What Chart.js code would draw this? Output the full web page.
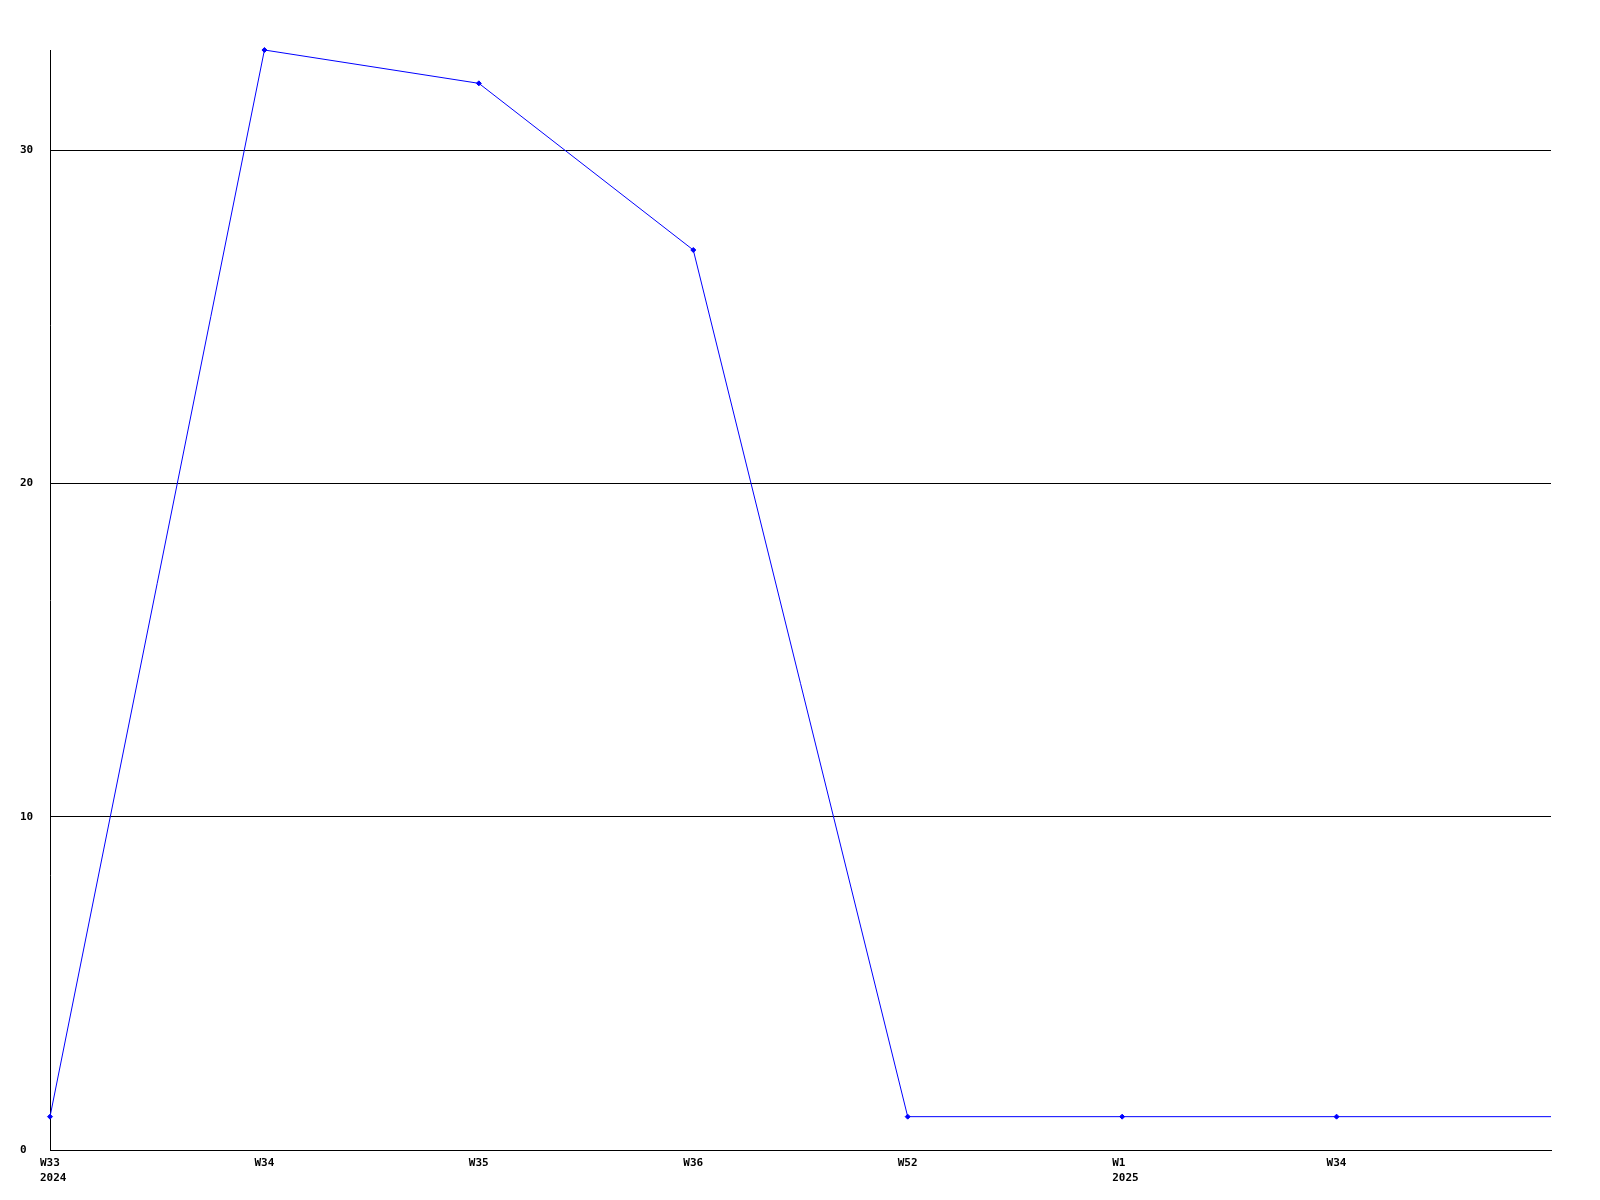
<!DOCTYPE html>
<html>
<head>
<meta charset="utf-8">
<script src="https://cdn.jsdelivr.net/npm/chart.js@4/dist/chart.umd.min.js"></script>
<style>
  html, body { margin: 0; padding: 0; background: #fff; }
  #wrap { width: 1600px; height: 1200px; }
</style>
</head>
<body>
<div id="wrap"><canvas id="weekChart"></canvas></div>
<script>
const weekLabels = [["W33", "2024"], "W34", "W35", "W36", "W52", ["W1", "2025"], "W34", ""];
const weekValues = [1, 33, 32, 27, 1, 1, 1, 1];
const pointSizes = [2.5, 2.5, 2.5, 2.5, 2.5, 2.5, 2.5, 0];

const tickFont = { family: "'DejaVu Sans Mono', monospace", size: 11, weight: "bold", lineHeight: 1.35 };

new Chart("weekChart", {
  type: "line",
  data: {
    labels: weekLabels,
    datasets: [
      {
        data: weekValues,
        borderColor: "#0000ff",
        backgroundColor: "#0000ff",
        borderWidth: 1,
        pointStyle: "rectRot",
        pointRadius: pointSizes,
        pointBorderWidth: 1,
        tension: 0,
        clip: false,
      },
    ],
  },
  options: {
    responsive: true,
    maintainAspectRatio: false,
    animation: false,
    layout: { padding: { top: 50, right: 49, left: 20, bottom: 0 } },
    plugins: { legend: { display: false }, tooltip: { enabled: false } },
    scales: {
      x: {
        offset: false,
        grid: { display: false, drawTicks: false },
        border: { display: true, color: "#000", width: 1 },
        ticks: {
          color: "#000",
          font: tickFont,
          padding: 6,
          align: "start",
          labelOffset: -10,
          maxRotation: 0,
          autoSkip: false,
        },
        afterFit: (s) => { s.height = 50; },
      },
      y: {
        min: 0,
        max: 33,
        grid: { color: "#000", lineWidth: 1, drawTicks: false },
        border: { display: true, color: "#000", width: 1 },
        ticks: {
          stepSize: 10,
          color: "#000",
          font: tickFont,
          crossAlign: "far",
          padding: 17,
        },
        afterBuildTicks: (s) => { s.ticks = s.ticks.filter((t) => t.value % 10 === 0); },
        afterFit: (s) => { s.width = 30; },
      },
    },
  },
});
</script>
</body>
</html>
